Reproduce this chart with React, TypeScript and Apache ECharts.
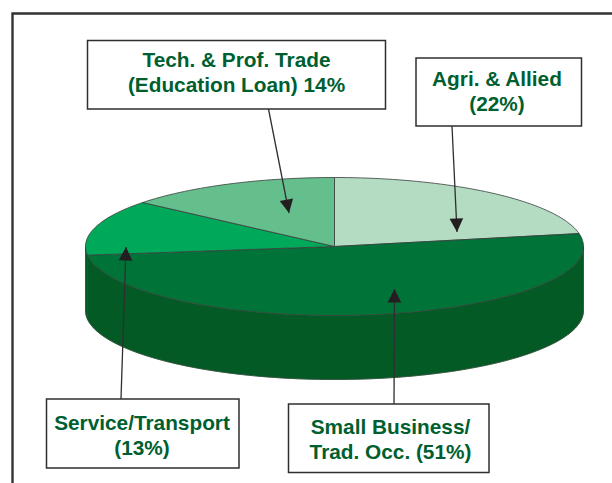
import React, { useEffect, useRef } from "react";
import * as echarts from "echarts";

const sliceNames = ["Agri. & Allied", "Small Business", "Service/Transport", "Tech. & Prof. Trade"];
const sliceValues = [22, 51, 13, 14];
const sliceColors = ["#b3dcc2", "#007338", "#00a95a", "#64bf8d"];
const wallColor = "#035a24";
const textColor = "#005f30";
const lineColor = "#2f2f2f";

const calloutLines = [
  ["Agri. & Allied", "(22%)"],
  ["Small Business/", "Trad. Occ. (51%)"],
  ["Service/Transport", "(13%)"],
  ["Tech. & Prof. Trade", "(Education Loan) 14%"],
];
// box: x, y, w, h ; arrow: from x, from y, tip x, tip y
const calloutBoxes = [
  [416, 58, 165.5, 68],
  [288.5, 404, 200.5, 68.5],
  [46.5, 399, 192.5, 69],
  [87.5, 40.5, 298, 68.5],
];
const calloutTextCenters = [
  [497, 91],
  [390.5, 438.5],
  [142, 434.5],
  [236.5, 72],
];
const calloutArrows = [
  [452, 126, 457, 232],
  [394, 404, 394.5, 289],
  [121, 399, 126, 247],
  [268.5, 109, 289, 213],
];

const CX = 334.5;
const CY = 246.5;
const RX = 249;
const RY = 69;
const DEPTH = 64;

const total = sliceValues.reduce((a, b) => a + b, 0);
const sliceData: number[][] = [];
{
  let acc = 0;
  sliceValues.forEach((v) => {
    sliceData.push([acc, acc + v]);
    acc += v;
  });
}

const pt = (deg: number, dy = 0): number[] => {
  const r = (deg * Math.PI) / 180;
  return [CX + RX * Math.sin(r), CY - RY * Math.cos(r) + dy];
};

const arcPts = (a: number, b: number, dy = 0): number[][] => {
  const n = Math.max(2, Math.ceil((b - a) / 1.5));
  const out: number[][] = [];
  for (let i = 0; i <= n; i++) out.push(pt(a + ((b - a) * i) / n, dy));
  return out;
};

function arrowHead(x0: number, y0: number, x1: number, y1: number): number[][] {
  const len = Math.hypot(x1 - x0, y1 - y0);
  const ux = (x1 - x0) / len;
  const uy = (y1 - y0) / len;
  const hl = 13.5;
  const hw = 6.8;
  const bx = x1 - ux * hl;
  const by = y1 - uy * hl;
  return [
    [x1, y1],
    [bx - uy * hw, by + ux * hw],
    [bx + uy * hw, by - ux * hw],
  ];
}

export default function App() {
  const ref = useRef<HTMLDivElement>(null);
  useEffect(() => {
    document.body.style.margin = "0";
    const chart = echarts.init(ref.current!, null, { renderer: "svg" });
    const graphics: any[] = [
      {
        type: "polyline",
        z: 10,
        shape: { points: [[12.5, 483], [12.5, 13.5], [612, 13.5]] },
        style: { fill: "none", stroke: "#333333", lineWidth: 2.4 },
      },
    ];
    calloutBoxes.forEach((b, i) => {
      graphics.push({
        type: "rect",
        z: 10,
        shape: { x: b[0], y: b[1], width: b[2], height: b[3] },
        style: { fill: "#ffffff", stroke: lineColor, lineWidth: 1.5 },
      });
      graphics.push({
        type: "text",
        z: 11,
        x: calloutTextCenters[i][0],
        y: calloutTextCenters[i][1],
        style: {
          text: calloutLines[i].join("\n"),
          fontFamily: "Liberation Sans",
          fontWeight: "bold",
          fontSize: 20.8,
          lineHeight: 25,
          align: "center",
          verticalAlign: "middle",
          fill: textColor,
        },
      });
      const a = calloutArrows[i];
      graphics.push({
        type: "line",
        z: 12,
        shape: { x1: a[0], y1: a[1], x2: a[2], y2: a[3] },
        style: { stroke: lineColor, lineWidth: 1.3 },
      });
      graphics.push({
        type: "polygon",
        z: 12,
        shape: { points: arrowHead(a[0], a[1], a[2], a[3]) },
        style: { fill: "#231f20" },
      });
    });

    chart.setOption({
      animation: false,
      tooltip: { show: false },
      graphic: graphics,
      series: [
        {
          type: "custom",
          coordinateSystem: "none",
          silent: true,
          z: 2,
          data: sliceData.map((d, i) => ({ name: sliceNames[i], value: d })),
          renderItem: (params: any, api: any) => {
            const a = (api.value(0) / total) * 360;
            const b = (api.value(1) / total) * 360;
            const children: any[] = [];
            const wa = Math.max(a, 90);
            const wb = Math.min(b, 270);
            if (wb > wa) {
              const top = arcPts(wa, wb);
              const bottom = arcPts(wa, wb, DEPTH).reverse();
              children.push({
                type: "polygon",
                shape: { points: [...top, ...bottom] },
                style: { fill: wallColor, stroke: wallColor, lineWidth: 0.6 },
              });
              children.push({
                type: "polyline",
                shape: { points: bottom },
                style: { fill: "none", stroke: "#3a4a3f", lineWidth: 0.7 },
              });
            }
            return { type: "group", children };
          },
        },
        {
          type: "custom",
          coordinateSystem: "none",
          silent: true,
          z: 3,
          data: sliceData.map((d, i) => ({ name: sliceNames[i], value: d })),
          renderItem: (params: any, api: any) => {
            const a = (api.value(0) / total) * 360;
            const b = (api.value(1) / total) * 360;
            return {
              type: "polygon",
              shape: { points: [[CX, CY], ...arcPts(a, b)] },
              style: {
                fill: sliceColors[params.dataIndex],
                stroke: "#3a3f3c",
                lineWidth: 0.8,
              },
            };
          },
        },
        {
          type: "custom",
          coordinateSystem: "none",
          silent: true,
          z: 2,
          data: [[0]],
          renderItem: () => ({
            type: "group",
            children: [
              {
                type: "line",
                shape: { x1: CX - RX, y1: CY, x2: CX - RX, y2: CY + DEPTH },
                style: { stroke: "#3a4a3f", lineWidth: 0.7 },
              },
              {
                type: "line",
                shape: { x1: CX + RX, y1: CY, x2: CX + RX, y2: CY + DEPTH },
                style: { stroke: "#3a4a3f", lineWidth: 0.7 },
              },
            ],
          }),
        },
      ],
    });
    return () => chart.dispose();
  }, []);
  return <div ref={ref} style={{ width: 612, height: 483, background: "#ffffff" }} />;
}
